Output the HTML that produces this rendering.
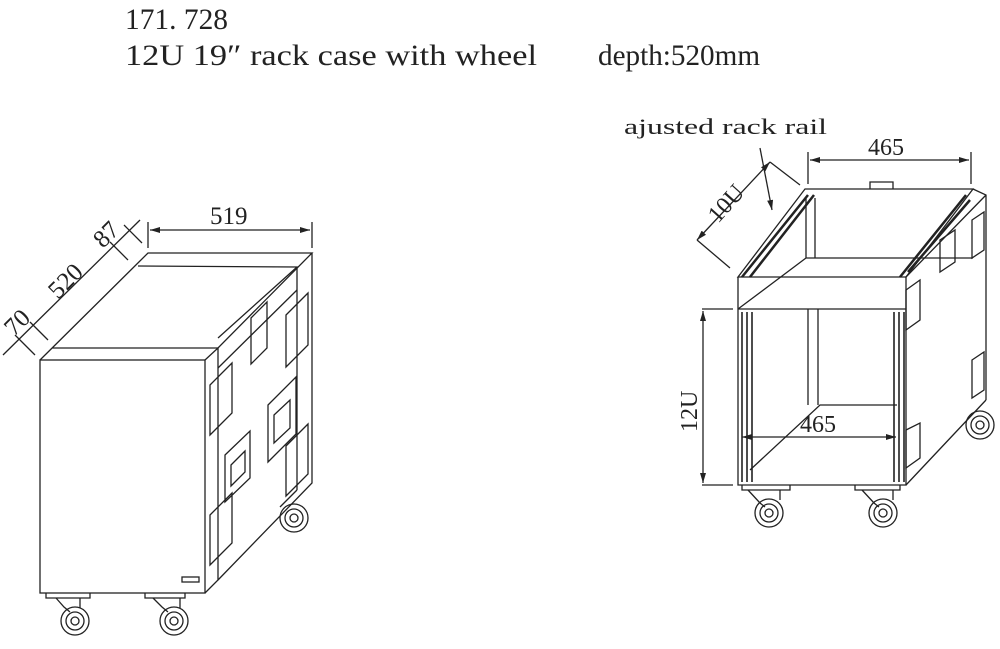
<!DOCTYPE html>
<html><head><meta charset="utf-8"><style>
html,body{margin:0;padding:0;background:#fff;width:1000px;height:649px;overflow:hidden}
svg{display:block}
text{font-family:"Liberation Serif",serif;fill:#222}
</style></head><body>
<svg width="1000" height="649" viewBox="0 0 1000 649" fill="none" stroke="#222" stroke-width="1.3">
<defs><marker id="a" markerWidth="10" markerHeight="6" refX="10" refY="3" orient="auto-start-reverse" markerUnits="userSpaceOnUse"><path d="M0,0 L10,3 L0,6 z" fill="#222" stroke="none"/></marker></defs>
<text x="125" y="29" font-size="30" textLength="103" lengthAdjust="spacingAndGlyphs" stroke="none">171. 728</text>
<text x="125" y="65" font-size="30" textLength="412" lengthAdjust="spacingAndGlyphs" stroke="none">12U 19″ rack case with wheel</text>
<text x="598" y="65" font-size="30" textLength="162" lengthAdjust="spacingAndGlyphs" stroke="none">depth:520mm</text>

<!-- LEFT CASE -->
<rect x="40" y="360" width="165" height="233"/>
<path d="M205,360 L218,348 L218,580 L205,593"/>
<path d="M40,360 L148,253 L312,253 L218,348 L52,348"/>
<path d="M138,266 L297,267 L218,338"/>
<path d="M297,267 L297,490 M312,253 L312,483 L218,580"/>
<path d="M218,368 L297,290"/>
<path d="M297,490 L280,507"/>
<path d="M251,318 L267,302 L267,348 L251,364z M286,315 L308,293 L308,345 L286,367z M210,385 L232,363 L232,413 L210,435z M268,405 L296,377 L296,434 L268,462z M274,415 L290,400 L290,428 L274,443z M225,455 L250,431 L250,478 L225,502z M231,465 L245,451 L245,472 L231,486z M286,446 L308,424 L308,474 L286,496z M210,515 L232,493 L232,543 L210,565z"/>
<rect x="182" y="577" width="17" height="5"/>
<path d="M46,593 L46,598 L90,598 L90,593 M145,593 L145,598 L185,598 L185,593"/>
<path d="M56,598 L64,607 L70,612 M80,598 L80,608 M153,598 L162,607 L168,612 M180,598 L180,608"/>
<circle cx="75" cy="621" r="14"/><circle cx="75" cy="621" r="9"/><circle cx="75" cy="621" r="4"/>
<circle cx="174" cy="621" r="14"/><circle cx="174" cy="621" r="9"/><circle cx="174" cy="621" r="4"/>
<circle cx="294" cy="518" r="14"/><circle cx="294" cy="518" r="9"/><circle cx="294" cy="518" r="4"/>
<path d="M148,248 L148,222 M312,248 L312,222"/>
<path d="M150,230 L310,230" marker-start="url(#a)" marker-end="url(#a)"/>
<text x="210" y="224" font-size="25" stroke="none">519</text>
<path d="M3,355 L140,220" />
<path d="M35,355 L15,335 M48,340 L30,322 M128,260 L110,242 M142,243 L124,225"/>
<text font-size="25" stroke="none" transform="translate(58,300) rotate(-45)">520</text>
<text font-size="25" stroke="none" transform="translate(14,337) rotate(-45)">70</text>
<text font-size="25" stroke="none" transform="translate(103,249) rotate(-45)">87</text>

<!-- RIGHT CASE -->
<text x="624" y="134" font-size="22" textLength="203" lengthAdjust="spacingAndGlyphs" stroke="none">ajusted rack rail</text>
<path d="M738,277 L805,189 L973,189 L906,277 Z"/>
<path d="M738,277 L738,485 L906,485 L906,277"/>
<path d="M738,309 L906,309 M738,309 L806,258 M806,198 L806,258 M815,198 L815,258 M806,258 L973,258"/>
<path d="M973,189 L986,195 L986,400 M906,277 L986,195"/>
<path d="M906,485 L986,400 M750,470 L820,405 L897,405"/>
<path d="M808,309 L808,405 M818,309 L818,405"/>
<path d="M742,277 L808,195 M750,277 L814,195 M900,277 L966,195 M908,272 L970,200" stroke-width="2.5"/>
<path d="M742,312 L742,482 M747,312 L747,482 M752,312 L752,482 M894,312 L894,482 M899,312 L899,482 M904,312 L904,482" stroke-width="1.6"/>
<path d="M870,189 L870,182 L893,182 L893,189"/>
<path d="M940,240 L955,230 L955,262 L940,272z M972,220 L984,212 L984,250 L972,258z M906,290 L920,280 L920,320 L906,330z M972,360 L984,352 L984,390 L972,398z M906,430 L920,423 L920,458 L906,468z"/>
<path d="M808,184 L808,152 M971,184 L971,152"/>
<path d="M810,160 L969,160" marker-start="url(#a)" marker-end="url(#a)"/>
<text x="868" y="155" font-size="24" stroke="none">465</text>
<path d="M697,240 L770,162" marker-start="url(#a)" marker-end="url(#a)"/>
<path d="M697,240 L730,268 M770,162 L800,185"/>
<text font-size="24" stroke="none" transform="translate(718,224) rotate(-48)">10U</text>
<path d="M760,148 L772,210" marker-end="url(#a)"/>
<path d="M702,309 L733,309 M702,485 L733,485"/>
<path d="M703,311 L703,483" marker-start="url(#a)" marker-end="url(#a)"/>
<text font-size="24" stroke="none" transform="translate(697,432) rotate(-90)">12U</text>
<path d="M742,437 L896,437" marker-start="url(#a)" marker-end="url(#a)"/>
<text x="800" y="432" font-size="24" stroke="none">465</text>
<path d="M742,485 L742,490 L790,490 L790,485 M855,485 L855,490 L900,490 L900,485"/>
<path d="M748,490 L760,503 L765,507 M780,490 L780,500 M862,490 L874,503 L879,507 M893,490 L893,500"/>
<circle cx="769" cy="513" r="14"/><circle cx="769" cy="513" r="9"/><circle cx="769" cy="513" r="4"/>
<circle cx="883" cy="513" r="14"/><circle cx="883" cy="513" r="9"/><circle cx="883" cy="513" r="4"/>
<circle cx="980" cy="425" r="14"/><circle cx="980" cy="425" r="9"/><circle cx="980" cy="425" r="4"/>
</svg>
</body></html>
